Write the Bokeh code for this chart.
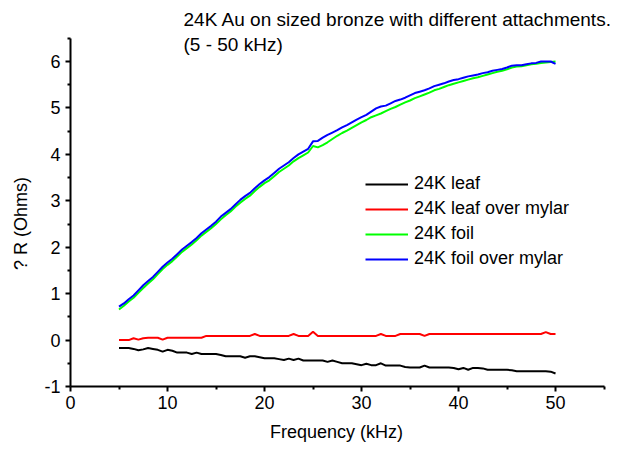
from bokeh.plotting import figure
from bokeh.models import Range1d, Legend, LegendItem, Label, FixedTicker
from bokeh.embed import file_html
from bokeh.resources import INLINE

freq = [5.0, 5.5, 6.0, 6.5, 7.0, 7.5, 8.0, 8.5, 9.0, 9.5, 10.0, 10.5, 11.0, 11.5, 12.0, 12.5,
        13.0, 13.5, 14.0, 14.5, 15.0, 15.5, 16.0, 16.5, 17.0, 17.5, 18.0, 18.5, 19.0, 19.5,
        20.0, 20.5, 21.0, 21.5, 22.0, 22.5, 23.0, 23.5, 24.0, 24.5, 25.0, 25.5, 26.0, 26.5,
        27.0, 27.5, 28.0, 28.5, 29.0, 29.5, 30.0, 30.5, 31.0, 31.5, 32.0, 32.5, 33.0, 33.5,
        34.0, 34.5, 35.0, 35.5, 36.0, 36.5, 37.0, 37.5, 38.0, 38.5, 39.0, 39.5, 40.0, 40.5,
        41.0, 41.5, 42.0, 42.5, 43.0, 43.5, 44.0, 44.5, 45.0, 45.5, 46.0, 46.5, 47.0, 47.5,
        48.0, 48.5, 49.0, 49.5, 50.0]

leaf = [-0.17, -0.17, -0.17, -0.19, -0.22, -0.20, -0.17, -0.19, -0.21, -0.25, -0.21, -0.23,
        -0.27, -0.27, -0.27, -0.30, -0.27, -0.30, -0.30, -0.30, -0.30, -0.32, -0.35, -0.35,
        -0.35, -0.35, -0.38, -0.35, -0.35, -0.37, -0.39, -0.39, -0.39, -0.41, -0.43, -0.40,
        -0.43, -0.40, -0.44, -0.44, -0.44, -0.44, -0.44, -0.47, -0.44, -0.47, -0.50, -0.50,
        -0.50, -0.52, -0.54, -0.51, -0.54, -0.54, -0.50, -0.55, -0.55, -0.55, -0.55, -0.58,
        -0.59, -0.59, -0.59, -0.55, -0.59, -0.59, -0.59, -0.59, -0.59, -0.60, -0.63, -0.60,
        -0.64, -0.60, -0.60, -0.61, -0.64, -0.64, -0.64, -0.64, -0.64, -0.65, -0.67, -0.67,
        -0.67, -0.67, -0.67, -0.67, -0.67, -0.68, -0.72]

leaf_mylar = [0.00, 0.00, 0.00, 0.04, 0.01, 0.04, 0.05, 0.05, 0.05, 0.01, 0.05, 0.05,
              0.05, 0.05, 0.05, 0.05, 0.05, 0.05, 0.09, 0.09, 0.09, 0.09, 0.09, 0.09,
              0.09, 0.09, 0.09, 0.09, 0.13, 0.09, 0.09, 0.09, 0.09, 0.09, 0.09, 0.09,
              0.13, 0.09, 0.09, 0.09, 0.18, 0.09, 0.09, 0.09, 0.09, 0.09, 0.09, 0.09,
              0.09, 0.09, 0.09, 0.09, 0.09, 0.09, 0.13, 0.09, 0.09, 0.09, 0.13, 0.13,
              0.13, 0.13, 0.13, 0.09, 0.13, 0.13, 0.13, 0.13, 0.13, 0.13, 0.13, 0.13,
              0.13, 0.13, 0.13, 0.13, 0.13, 0.13, 0.13, 0.13, 0.13, 0.13, 0.13, 0.13,
              0.13, 0.13, 0.13, 0.13, 0.17, 0.13, 0.13]

foil = [0.66, 0.74, 0.83, 0.91, 1.02, 1.12, 1.22, 1.31, 1.42, 1.53, 1.62, 1.70, 1.80, 1.90,
        1.98, 2.06, 2.15, 2.25, 2.33, 2.41, 2.50, 2.60, 2.69, 2.77, 2.87, 2.96, 3.04, 3.11,
        3.21, 3.30, 3.38, 3.44, 3.53, 3.62, 3.69, 3.76, 3.85, 3.92, 3.98, 4.04, 4.18, 4.15,
        4.20, 4.26, 4.33, 4.40, 4.46, 4.51, 4.57, 4.63, 4.69, 4.74, 4.80, 4.84, 4.88, 4.93,
        4.98, 5.02, 5.07, 5.12, 5.16, 5.21, 5.25, 5.29, 5.33, 5.38, 5.41, 5.45, 5.49, 5.52,
        5.55, 5.58, 5.61, 5.64, 5.66, 5.69, 5.72, 5.75, 5.78, 5.80, 5.83, 5.87, 5.89, 5.90,
        5.92, 5.94, 5.95, 5.97, 5.98, 5.99, 6.00]

foil_mylar = [0.72, 0.79, 0.88, 0.96, 1.07, 1.18, 1.27, 1.36, 1.47, 1.58, 1.67, 1.75, 1.85,
              1.95, 2.03, 2.11, 2.20, 2.30, 2.38, 2.46, 2.55, 2.66, 2.74, 2.82, 2.92, 3.02,
              3.10, 3.17, 3.27, 3.36, 3.44, 3.51, 3.60, 3.69, 3.76, 3.83, 3.92, 4.00, 4.06,
              4.12, 4.28, 4.29, 4.36, 4.42, 4.47, 4.52, 4.58, 4.63, 4.69, 4.75, 4.80, 4.85,
              4.92, 4.99, 5.03, 5.05, 5.10, 5.15, 5.18, 5.22, 5.27, 5.32, 5.35, 5.38, 5.42,
              5.47, 5.50, 5.53, 5.57, 5.60, 5.62, 5.65, 5.68, 5.70, 5.72, 5.75, 5.77, 5.80,
              5.82, 5.84, 5.87, 5.91, 5.92, 5.92, 5.94, 5.96, 5.97, 6.00, 6.00, 6.00, 5.95]

series_names = ["24K leaf", "24K leaf over mylar", "24K foil", "24K foil over mylar"]
series_values = [leaf, leaf_mylar, foil, foil_mylar]
series_colors = ["#000000", "#ff0000", "#00ff00", "#0000ff"]

x_ticks = [0, 10, 20, 30, 40, 50]
x_minor = [5, 15, 25, 35, 45, 55]
y_ticks = [-1, 0, 1, 2, 3, 4, 5, 6]
y_minor = [-0.5, 0.5, 1.5, 2.5, 3.5, 4.5, 5.5, 6.5]

title_lines = ["24K Au on sized bronze with different attachments.", "(5 - 50 kHz)"]

FONT = "Liberation Sans"
NB = "\u00a0"

# The frame fills the canvas to the top and right so the title and legend texts are not
# clipped; the drawn axis lines are bounded to the reference's 0..55 and -1..6.5 spans.
p = figure(width=627, height=454, output_backend="svg", toolbar_location=None,
           x_range=Range1d(0, 57.42), y_range=Range1d(-1, 7.314),
           min_border_left=70, min_border_right=0, min_border_top=0, min_border_bottom=68)
p.outline_line_color = None
p.xgrid.grid_line_color = None
p.ygrid.grid_line_color = None
p.background_fill_color = "white"
p.border_fill_color = "white"

renderers = []
for vals, col in zip(series_values, series_colors):
    r = p.line(freq, vals, line_color=col, line_width=2)
    renderers.append(r)

p.xaxis.ticker = FixedTicker(ticks=x_ticks, minor_ticks=x_minor)
p.yaxis.ticker = FixedTicker(ticks=y_ticks, minor_ticks=y_minor)
p.xaxis.bounds = (0, 55)
p.yaxis.bounds = (-1, 6.5)
for ax in (p.xaxis[0], p.yaxis[0]):
    ax.axis_line_color = "black"
    ax.axis_line_width = 2
    ax.major_tick_line_color = "black"
    ax.major_tick_line_width = 2
    ax.major_tick_out = 5
    ax.major_tick_in = 0
    ax.minor_tick_line_color = "black"
    ax.minor_tick_line_width = 2
    ax.minor_tick_out = 3
    ax.minor_tick_in = 0
    ax.major_label_text_font = FONT
    ax.major_label_text_font_size = "18px"
    ax.major_label_text_color = "black"
    ax.axis_label_text_font = FONT
    ax.axis_label_text_font_size = "18px"
    ax.axis_label_text_font_style = "normal"
    ax.axis_label_text_color = "black"
p.xaxis.major_label_standoff = 4
p.yaxis.major_label_standoff = 5
p.yaxis.major_label_overrides = {-1: "-1"}
p.xaxis.axis_label = "Frequency (kHz)" + NB * 5
p.yaxis.axis_label = "? R (Ohms)" + NB * 12
p.xaxis.axis_label_standoff = 10
p.yaxis.axis_label_standoff = 10

items = [LegendItem(label=n, renderers=[r]) for n, r in zip(series_names, renderers)]
legend = Legend(items=items, location=(295, 117), orientation="vertical",
                border_line_color=None, background_fill_alpha=0,
                padding=0, margin=0, spacing=4, label_height=20, glyph_height=20,
                glyph_width=43, label_standoff=6,
                label_text_font=FONT, label_text_font_size="18px", label_text_color="black")
p.add_layout(legend, "center")

p.add_layout(Label(x=11.65, y=6.91, text=title_lines[0], text_font=FONT, text_font_size="19px",
                   text_baseline="middle", text_align="left", text_color="black"))
p.add_layout(Label(x=11.65, y=6.36, text=title_lines[1], text_font=FONT, text_font_size="19px",
                   text_baseline="middle", text_align="left", text_color="black"))

open("out.html", "w").write(file_html(p, INLINE))
